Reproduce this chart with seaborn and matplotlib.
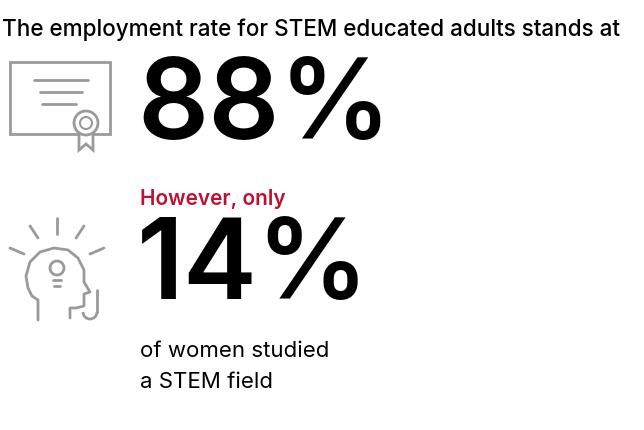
import matplotlib
matplotlib.use("Agg")
import matplotlib.pyplot as plt
import seaborn as sns
import numpy as np
from matplotlib.patches import Rectangle, Circle, Polygon, Arc

title = "The employment rate for STEM educated adults stands at"
values = [88, 14]
subtitle = "However, only"
footer = ["of women studied", "a STEM field"]

sns.set_theme(style="white")
plt.rcParams['font.family'] = ['Inter', 'DejaVu Sans']

fig = plt.figure(figsize=(6.44, 4.30), dpi=100)
ax = fig.add_axes([0, 0, 1, 1])
ax.set_xlim(0, 644); ax.set_ylim(430, 0); ax.axis('off')
gray = '#9a9a9a'
red = '#c0102f'

ax.text(2, 30, title, fontsize=16.2, va='center', ha='left', color='black', fontweight='medium')
ax.text(137, 110, f"{values[0]}%", fontsize=80, va='center', ha='left', color='black', fontweight='semibold')
ax.text(140, 199, subtitle, fontsize=15, va='center', ha='left', color=red, fontweight='semibold')
ax.text(137, 270, f"{values[1]}%", fontsize=80, va='center', ha='left', color='black', fontweight='semibold')
ax.text(140, 351, footer[0], fontsize=16, va='center', ha='left', color='black')
ax.text(140, 382, footer[1], fontsize=16, va='center', ha='left', color='black')

# certificate icon
ax.add_patch(Rectangle((10, 62), 100, 72, fill=False, ec=gray, lw=2))
for y, x0, x1 in [(80, 34, 88), (92, 40, 82), (104, 42, 76)]:
    ax.plot([x0, x1], [y, y], color=gray, lw=2)
ax.add_patch(Polygon([[79, 128], [79, 150], [86, 144], [93, 150], [93, 128]], closed=True, fc='white', ec=gray, lw=2))
ax.add_patch(Circle((86, 123), 12, fc='white', ec=gray, lw=2))
ax.add_patch(Circle((86, 123), 6, fill=False, ec=gray, lw=1.5))

# head with bulb icon
head = [[38, 320], [38, 300], [32, 296], [28, 288], [26, 276], [30, 262], [40, 252], [54, 248], [68, 250],
        [78, 258], [84, 270], [84, 282], [90, 292], [84, 294], [84, 306], [76, 308], [70, 308], [70, 318]]
h = np.array(head)
ax.plot(h[:, 0], h[:, 1], color=gray, lw=2)
ax.add_patch(Circle((57, 268), 7, fill=False, ec=gray, lw=2))
ax.plot([53, 61], [280, 280], color=gray, lw=2)
ax.plot([54, 60], [286, 286], color=gray, lw=2)
ax.plot([97, 97], [290, 312], color=gray, lw=2)
ax.add_patch(Arc((90, 312), 14, 14, theta1=0, theta2=180, ec=gray, lw=2))
for x0, y0, x1, y1 in [(57, 218, 57, 234), (30, 226, 38, 238), (84, 226, 76, 238), (10, 248, 24, 254), (104, 248, 90, 254)]:
    ax.plot([x0, x1], [y0, y1], color=gray, lw=2)

fig.savefig("out.png", dpi=100)
